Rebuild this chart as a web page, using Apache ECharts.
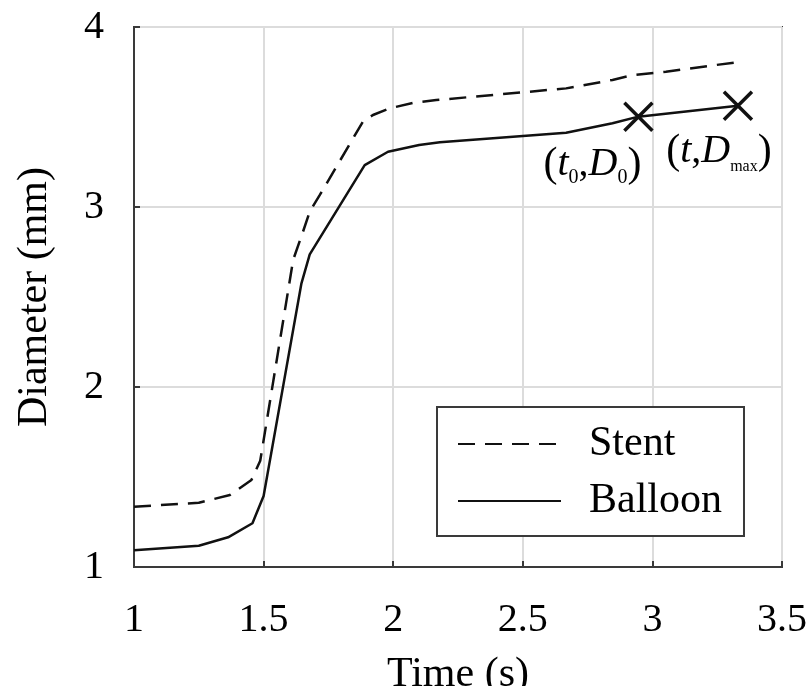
<!DOCTYPE html>
<html>
<head>
<meta charset="utf-8">
<script src="https://cdn.jsdelivr.net/npm/echarts@6/dist/echarts.min.js"></script>
<style>
  html, body { margin: 0; padding: 0; background: #fff; }
  #main { width: 809px; height: 686px; }
</style>
</head>
<body>
<div id="main"></div>
<script>
// ------------------------------
// Data
// ------------------------------
var stentTime = [1.0, 1.25, 1.37, 1.453, 1.487, 1.614, 1.65, 1.678, 1.717, 1.883, 1.922, 1.986, 2.075, 2.166, 2.667, 2.846, 2.923, 3.052, 3.34];
var stentDiam = [1.335, 1.357, 1.40, 1.483, 1.59, 2.706, 2.854, 2.974, 3.067, 3.474, 3.511, 3.548, 3.578, 3.594, 3.659, 3.706, 3.733, 3.752, 3.807];

var balloonTime = [1.0, 1.25, 1.363, 1.457, 1.5, 1.646, 1.678, 1.89, 1.98, 2.1, 2.18, 2.667, 2.846, 2.946, 3.33];
var balloonDiam = [1.093, 1.118, 1.165, 1.243, 1.394, 2.576, 2.737, 3.233, 3.307, 3.344, 3.36, 3.413, 3.465, 3.502, 3.562];

// marked points (t0, D0) and (t, Dmax)
var markTime = [2.946, 3.33];
var markDiam = [3.502, 3.562];
var markLabels = ['{p|(}{i|t}{s|0}{n|,}{i|D}{s|0}{p|)}', '{p|(}{i|t}{n|,}{i|D}{m|max}{p|)}'];
var markOffsets = [[-46, 48], [-19, 46]];

var xTicks = { min: 1, max: 3.5, step: 0.5 };
var yTicks = { min: 1, max: 4, step: 1 };

function pairs(xs, ys) {
    return xs.map(function (x, i) { return [x, ys[i]]; });
}

var FONT = 'Liberation Serif';
var AXIS_COLOR = '#3a3a3a';

var chart = echarts.init(document.getElementById('main'));

var option = {
    animation: false,
    backgroundColor: '#fff',
    grid: {
        left: 134,
        right: 27,
        top: 27,
        bottom: 119,
        outerBoundsMode: 'none',
        show: true,
        borderColor: AXIS_COLOR,
        borderWidth: 2
    },

    // Legend box
    legend: {
        orient: 'vertical',
        left: 437,
        top: 407,
        backgroundColor: '#fff',
        borderColor: AXIS_COLOR,
        borderWidth: 2,
        borderRadius: 0,
        padding: [15, 22, 13, 20],
        itemWidth: 103,
        itemHeight: 14,
        itemGap: 13,
        itemStyle: { opacity: 0 },
        data: ['Stent', 'Balloon'],
        textStyle: {
            fontFamily: FONT,
            fontSize: 42,
            lineHeight: 44,
            color: '#000',
            padding: [0, 0, 0, 23]
        }
    },

    xAxis: {
        type: 'value',
        min: xTicks.min,
        max: xTicks.max,
        interval: xTicks.step,
        name: 'Time (s)',
        nameLocation: 'middle',
        nameGap: 87,
        nameTextStyle: { fontFamily: FONT, fontSize: 42, color: '#000' },
        axisLine: { onZero: false, lineStyle: { color: AXIS_COLOR, width: 2 } },
        axisTick: { inside: true, length: 6, lineStyle: { color: AXIS_COLOR, width: 2 } },
        axisLabel: { fontFamily: FONT, fontSize: 40, color: '#000', margin: 33 },
        splitLine: { lineStyle: { color: '#dcdcdc', width: 2 } }
    },
    yAxis: {
        type: 'value',
        min: yTicks.min,
        max: yTicks.max,
        interval: yTicks.step,
        name: 'Diameter (mm)',
        nameLocation: 'middle',
        nameGap: 78,
        nameTextStyle: { fontFamily: FONT, fontSize: 42, color: '#000' },
        axisLine: { onZero: false, lineStyle: { color: AXIS_COLOR, width: 2 } },
        axisTick: { inside: true, length: 6, lineStyle: { color: AXIS_COLOR, width: 2 } },
        axisLabel: { fontFamily: FONT, fontSize: 40, color: '#000', margin: 30 },
        splitLine: { lineStyle: { color: '#dcdcdc', width: 2 } }
    },

    series: [{
        name: 'Stent',
        type: 'line',
        symbol: 'none',
        data: pairs(stentTime, stentDiam),
        lineStyle: { color: '#111', width: 2.5, type: [17, 10] },
        itemStyle: { color: '#111' }
    }, {
        name: 'Balloon',
        type: 'line',
        symbol: 'none',
        data: pairs(balloonTime, balloonDiam),
        lineStyle: { color: '#111', width: 2.5 },
        itemStyle: { color: '#111' }
    }, {
        name: 'marks',
        type: 'scatter',
        symbol: 'path://M0,0L10,10M0,10L10,0',
        symbolSize: 28,
        z: 5,
        itemStyle: { color: 'transparent', borderColor: '#111', borderWidth: 3.5, opacity: 1 },
        data: markTime.map(function (t, i) {
            return {
                value: [t, markDiam[i]],
                label: {
                    show: true,
                    position: 'inside',
                    offset: markOffsets[i],
                    formatter: markLabels[i]
                }
            };
        }),
        label: {
            fontFamily: FONT,
            color: '#000',
            rich: {
                p: { fontFamily: FONT, fontSize: 42, lineHeight: 46, color: '#000' },
                i: { fontFamily: FONT, fontSize: 40, lineHeight: 46, fontStyle: 'italic', color: '#000' },
                n: { fontFamily: FONT, fontSize: 40, lineHeight: 46, color: '#000' },
                s: { fontFamily: FONT, fontSize: 20, lineHeight: 18, verticalAlign: 'bottom', color: '#000' },
                m: { fontFamily: FONT, fontSize: 16, lineHeight: 16, verticalAlign: 'bottom', color: '#000' }
            }
        }
    }]
};

chart.setOption(option);
</script>
</body>
</html>
